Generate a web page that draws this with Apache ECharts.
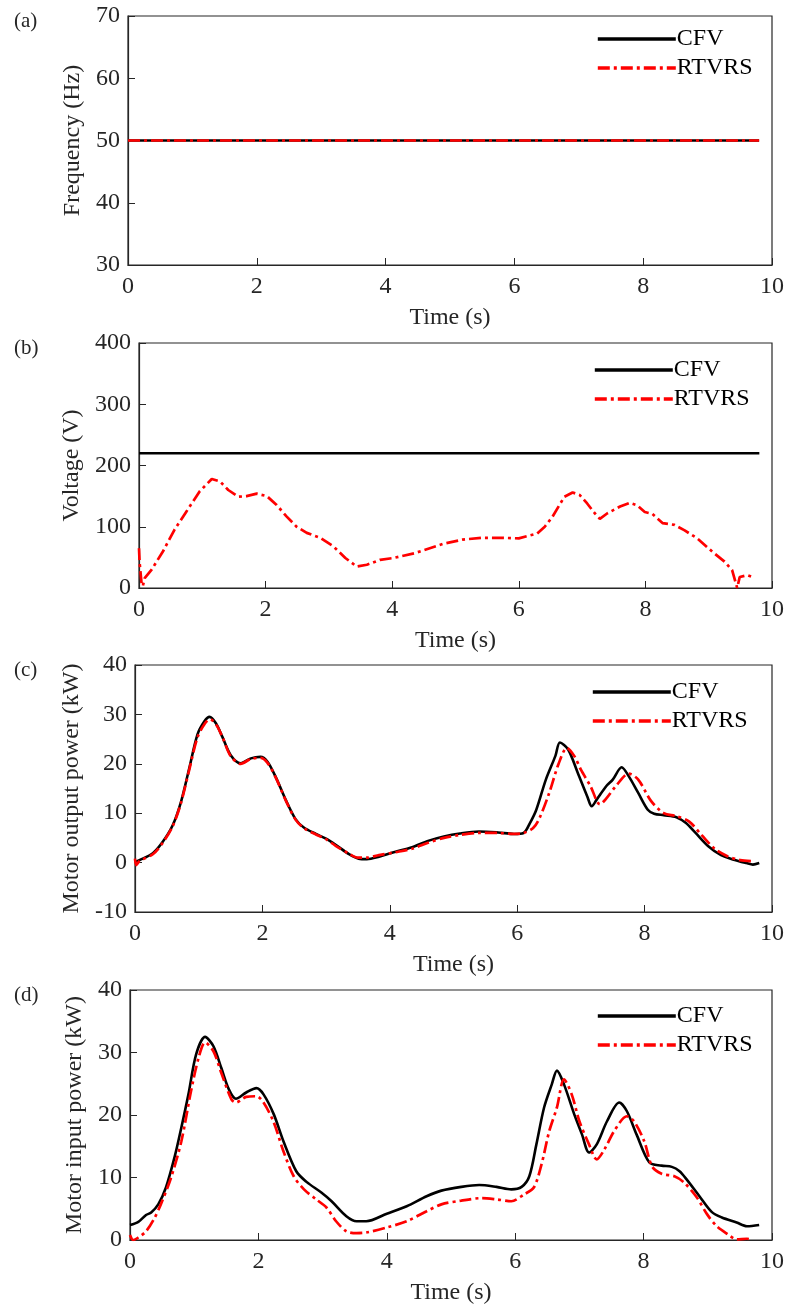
<!DOCTYPE html>
<html>
<head>
<meta charset="utf-8">
<script src="https://cdn.jsdelivr.net/npm/echarts@6/dist/echarts.min.js"></script>
<style>
  html, body { margin: 0; padding: 0; background: #fff; }
  #main { width: 789px; height: 1310px; }
</style>
</head>
<body>
<div id="main"></div>
<script>
// ---- data ----
const seriesNames = ['CFV', 'RTVRS'];
const xTicks = [0, 2, 4, 6, 8, 10];

// (a) frequency
const tA = [0, 9.8];
const freqCFV = [50, 50];
const freqRTVRS = [50, 50];

// (b) voltage
const tB_cfv = [0, 9.8];
const voltCFV = [220, 220];
const tB_rtvrs = [0, 0.01, 0.04, 0.06, 0.09, 0.2, 0.38, 0.56, 0.75, 0.96, 1.15, 1.28, 1.41, 1.57, 1.7, 1.86, 2.02, 2.17, 2.33, 2.49, 2.65, 2.86, 3.07, 3.26, 3.44, 3.6, 3.81, 4.02, 4.36, 4.8, 5.11, 5.43, 5.74, 6.0, 6.29, 6.41, 6.53, 6.72, 6.85, 6.96, 7.08, 7.2, 7.28, 7.4, 7.6, 7.75, 7.87, 7.99, 8.11, 8.27, 8.46, 8.62, 8.82, 9.06, 9.25, 9.37, 9.45, 9.49, 9.61, 9.69];
const voltRTVRS = [65, 41, 8, 3, 16, 30, 60, 95, 125, 158, 178, 174, 160, 149, 150, 154, 150, 136, 117, 100, 90, 82, 68, 49, 35, 38, 46, 49, 57, 72, 79, 82, 82, 81, 89, 100, 116, 149, 156, 152, 138, 122, 113, 122, 133, 139, 135, 124, 121, 106, 103, 94, 81, 59, 43, 29, 0, 18, 21, 18];

// (c) motor output power
const tC_cfv = [0, 0.07, 0.28, 0.43, 0.59, 0.72, 0.85, 0.98, 1.09, 1.17, 1.27, 1.37, 1.5, 1.66, 1.82, 1.97, 2.08, 2.21, 2.37, 2.52, 2.65, 2.84, 2.99, 3.15, 3.36, 3.51, 3.64, 3.83, 4.09, 4.35, 4.6, 4.85, 5.1, 5.4, 5.7, 5.95, 6.1, 6.2, 6.3, 6.45, 6.6, 6.67, 6.8, 6.95, 7.1, 7.17, 7.25, 7.4, 7.5, 7.64, 7.75, 7.9, 8.05, 8.15, 8.3, 8.5, 8.65, 8.8, 9.0, 9.2, 9.4, 9.6, 9.7, 9.8];
const outCFV = [0.1, 0.5, 1.9, 4.1, 7.5, 12.2, 19, 25.9, 28.6, 29.5, 28.2, 25.5, 21.8, 20.1, 21.1, 21.4, 20.4, 17.3, 12.6, 8.8, 7.1, 5.8, 4.9, 3.6, 1.7, 0.8, 0.7, 1.2, 2.2, 3.1, 4.4, 5.3, 5.9, 6.3, 6.1, 5.8, 6.0, 8.0, 10.7, 16.8, 21.6, 24.3, 22.9, 18.2, 13.4, 11.4, 12.8, 15.5, 16.8, 19.3, 17.5, 14.1, 10.7, 9.9, 9.6, 9.2, 8.0, 6.0, 3.3, 1.5, 0.6, -0.1, -0.4, -0.1];
const tC_rtvrs = [0, 0.02, 0.07, 0.28, 0.43, 0.59, 0.72, 0.85, 0.98, 1.1, 1.18, 1.28, 1.38, 1.5, 1.66, 1.82, 1.97, 2.08, 2.21, 2.37, 2.52, 2.65, 2.84, 2.99, 3.15, 3.36, 3.5, 3.64, 3.83, 4.09, 4.35, 4.6, 4.85, 5.1, 5.4, 5.7, 5.95, 6.1, 6.25, 6.35, 6.5, 6.65, 6.78, 6.9, 7.0, 7.15, 7.3, 7.4, 7.55, 7.75, 7.9, 8.1, 8.3, 8.5, 8.7, 8.9, 9.1, 9.3, 9.5, 9.7];
const outRTVRS = [0.8, -0.5, 0.3, 1.7, 3.9, 7.3, 12.0, 18.7, 25.3, 28.2, 29.0, 27.8, 25.2, 21.6, 20.0, 21.0, 21.2, 20.2, 17.2, 12.5, 8.7, 7.0, 5.7, 4.8, 3.4, 1.8, 1.0, 1.0, 1.5, 2.1, 2.8, 4.0, 5.0, 5.6, 6.0, 6.0, 5.8, 6.0, 7.0, 9.0, 14.0, 20.0, 23.2, 21.5, 18.8, 15.5, 11.8, 13.0, 15.5, 18.0, 16.8, 12.5, 10.0, 9.4, 8.3, 5.5, 2.8, 1.3, 0.5, 0.3];

// (d) motor input power
const tD_cfv = [0, 0.13, 0.25, 0.33, 0.44, 0.56, 0.7, 0.8, 0.91, 1.03, 1.17, 1.3, 1.42, 1.54, 1.65, 1.81, 1.97, 2.08, 2.24, 2.39, 2.59, 2.75, 2.98, 3.14, 3.37, 3.53, 3.68, 4.0, 4.31, 4.62, 4.85, 5.16, 5.44, 5.71, 5.94, 6.1, 6.22, 6.33, 6.45, 6.57, 6.65, 6.76, 6.92, 7.04, 7.15, 7.27, 7.43, 7.62, 7.74, 7.89, 8.09, 8.28, 8.44, 8.56, 8.67, 8.87, 9.06, 9.22, 9.45, 9.61, 9.8];
const inCFV = [2.4, 2.9, 4.0, 4.4, 5.7, 8.4, 13.5, 18, 23.3, 29.7, 32.5, 31, 27.6, 24.1, 22.6, 23.6, 24.3, 23.3, 20.1, 15.8, 11, 9.3, 7.6, 6.2, 3.8, 3.0, 3.0, 4.2, 5.4, 7.0, 7.9, 8.5, 8.8, 8.5, 8.1, 8.5, 10.2, 15.3, 21.2, 24.9, 27.1, 24.9, 20.1, 16.9, 14.0, 15.3, 19, 22, 20.6, 16.9, 12.4, 11.9, 11.7, 11, 9.7, 7.0, 4.5, 3.6, 2.8, 2.2, 2.4];
const tD_rtvrs = [0, 0.05, 0.13, 0.25, 0.37, 0.48, 0.64, 0.8, 0.95, 1.07, 1.17, 1.3, 1.42, 1.58, 1.65, 1.81, 1.97, 2.08, 2.24, 2.39, 2.55, 2.71, 2.9, 3.06, 3.21, 3.37, 3.53, 3.68, 4.0, 4.31, 4.62, 4.85, 5.16, 5.48, 5.71, 5.94, 6.14, 6.29, 6.41, 6.53, 6.65, 6.76, 6.88, 7.0, 7.15, 7.27, 7.39, 7.54, 7.74, 7.85, 8.01, 8.13, 8.28, 8.48, 8.63, 8.83, 8.99, 9.14, 9.3, 9.45, 9.61, 9.69];
const inRTVRS = [0.8, 0.0, 0.4, 1.4, 3.3, 5.7, 10, 15.8, 23.8, 29.2, 31.6, 30.2, 26.8, 22.5, 22, 22.9, 23, 22, 18.8, 14.2, 10.2, 8.1, 6.5, 5.2, 3.0, 1.4, 1.1, 1.2, 2.0, 3.0, 4.6, 5.7, 6.3, 6.7, 6.5, 6.2, 7.3, 8.4, 12.1, 17.4, 21.2, 25.7, 23.3, 19, 15.3, 12.9, 14.5, 17.4, 19.8, 19, 15.8, 11.8, 10.6, 10.2, 9.2, 6.8, 4.1, 2.2, 1.0, 0.1, 0.2, 0.0];

// ---- layout ----
const FONT = "'Liberation Serif', 'Times New Roman', serif";
const INK = '#262626';
const panels = [
  { tag: '(a)', yName: 'Frequency (Hz)', yMin: 30, yMax: 70, yStep: 10, left: 128, top: 16, height: 249, legendTop: 27, legendLeft: 596 },
  { tag: '(b)', yName: 'Voltage (V)', yMin: 0, yMax: 400, yStep: 100, left: 139, top: 343, height: 245, legendTop: 358, legendLeft: 593 },
  { tag: '(c)', yName: 'Motor output power (kW)', yMin: -10, yMax: 40, yStep: 10, left: 135, top: 665, height: 247, legendTop: 680, legendLeft: 591 },
  { tag: '(d)', yName: 'Motor input power (kW)', yMin: 0, yMax: 40, yStep: 10, left: 130, top: 990, height: 250, legendTop: 1004, legendLeft: 596 }
];

const pairs = (t, v) => t.map((x, i) => [x, v[i]]);
const lines = [
  [pairs(tA, freqCFV), pairs(tA, freqRTVRS)],
  [pairs(tB_cfv, voltCFV), pairs(tB_rtvrs, voltRTVRS)],
  [pairs(tC_cfv, outCFV), pairs(tC_rtvrs, outRTVRS)],
  [pairs(tD_cfv, inCFV), pairs(tD_rtvrs, inRTVRS)]
];

let grid = [], xAxis = [], yAxis = [], series = [], legend = [], title = [];

panels.forEach((p, i) => {
  grid.push({
    left: p.left, right: 17, top: p.top, height: p.height,
    show: true, borderColor: INK, borderWidth: 1.2, backgroundColor: '#fff'
  });
  xAxis.push({
    type: 'value', gridIndex: i, min: 0, max: 10, interval: 2,
    name: 'Time (s)', nameLocation: 'middle', nameGap: 41,
    nameTextStyle: { fontFamily: FONT, fontSize: 24, color: INK },
    axisLine: { show: true, onZero: false, lineStyle: { color: INK, width: 1.2 } },
    axisTick: { show: true, inside: true, length: 7, lineStyle: { color: INK } },
    axisLabel: { fontFamily: FONT, fontSize: 24, color: INK, margin: 10 },
    splitLine: { show: false }
  });
  yAxis.push({
    type: 'value', gridIndex: i, min: p.yMin, max: p.yMax, interval: p.yStep,
    name: p.yName, nameLocation: 'middle', nameGap: 42,
    nameTextStyle: { fontFamily: FONT, fontSize: 24, color: INK },
    axisLine: { show: true, onZero: false, lineStyle: { color: INK, width: 1.2 } },
    axisTick: { show: true, inside: true, length: 7, lineStyle: { color: INK } },
    axisLabel: { fontFamily: FONT, fontSize: 24, color: INK, margin: 8 },
    splitLine: { show: false }
  });
  const smooth = i >= 2 ? 0.3 : false;
  series.push({
    name: seriesNames[0], type: 'line', xAxisIndex: i, yAxisIndex: i,
    data: lines[i][0], showSymbol: false, symbol: 'none', smooth: smooth,
    lineStyle: { color: '#000', width: 2.6 }, itemStyle: { color: '#000' }, z: 2
  });
  series.push({
    name: seriesNames[1], type: 'line', xAxisIndex: i, yAxisIndex: i,
    data: lines[i][1], showSymbol: false, symbol: 'none', smooth: smooth,
    lineStyle: { color: '#ff0000', width: 2.7, type: [12, 4, 3, 4], cap: 'butt' },
    itemStyle: { color: '#ff0000' }, z: 3
  });
  legend.push({
    data: seriesNames, orient: 'vertical', left: p.legendLeft, top: p.legendTop,
    padding: 0, itemWidth: 78, itemHeight: 12, itemGap: 5, selectedMode: false,
    itemStyle: { opacity: 0 },
    lineStyle: { width: 3.6 },
    textStyle: { fontFamily: FONT, fontSize: 24, color: '#000', padding: [0, 0, 0, -4] }
  });
  title.push({
    text: p.tag, left: 9, top: p.top - 10,
    textStyle: { fontFamily: FONT, fontSize: 21, fontWeight: 'normal', color: INK }
  });
});

const chart = echarts.init(document.getElementById('main'));
chart.setOption({
  backgroundColor: '#fff',
  animation: false,
  title: title,
  grid: grid,
  xAxis: xAxis,
  yAxis: yAxis,
  legend: legend,
  series: series
});
</script>
</body>
</html>
